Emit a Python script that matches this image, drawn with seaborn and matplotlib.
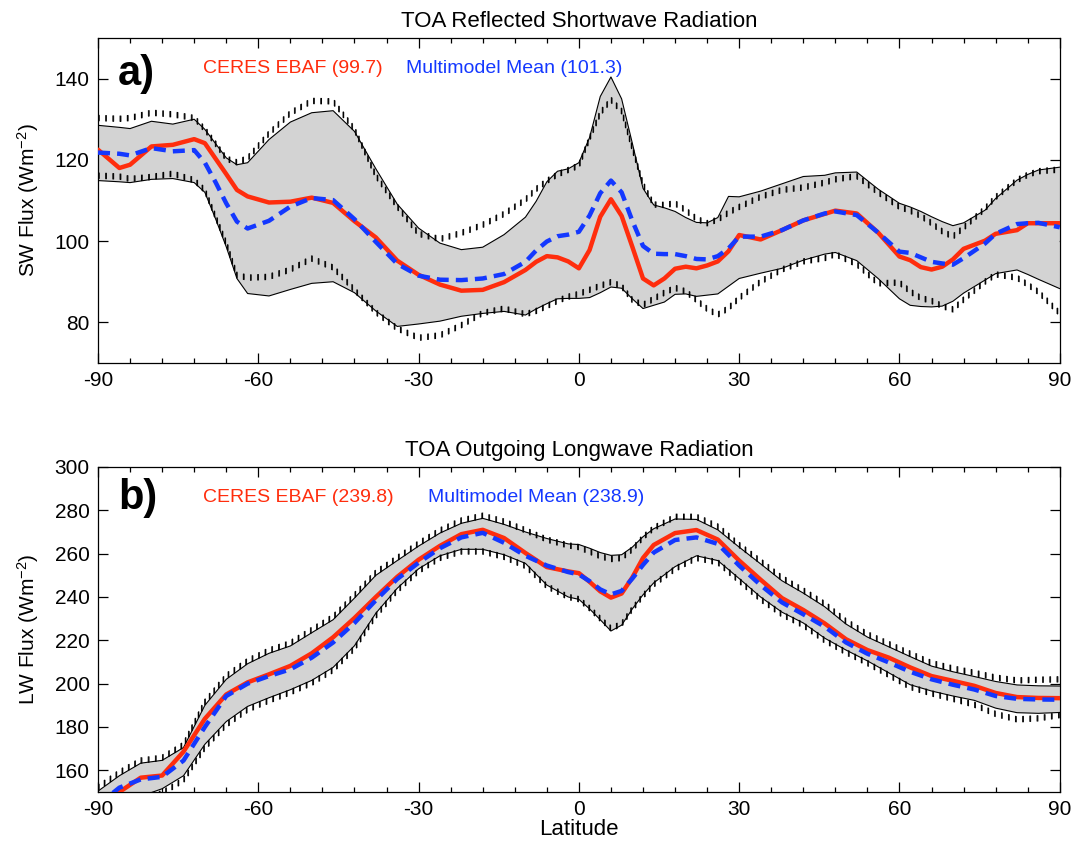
import numpy as np
import pandas as pd
import matplotlib
matplotlib.use("Agg")
import matplotlib.pyplot as plt
import matplotlib.transforms as mtransforms
from matplotlib.ticker import MultipleLocator
import seaborn as sns

# ---------------- data: panel a (SW) ----------------
sw_lat = [-90, -86, -84, -80, -76, -72, -70, -68, -66, -64, -62, -58, -54, -50, -46, -42,
          -38, -34, -30, -26, -22, -18, -14, -10, -8, -6, -4, -2, 0, 2, 4, 6, 8, 10, 12,
          14, 16, 18, 20, 22, 24, 26, 28, 30, 34, 38, 42, 46, 48, 52, 56, 60, 62, 64, 66,
          68, 70, 72, 76, 78, 82, 84, 86, 90]
sw_ceres = [122.5, 118.0, 118.8, 123.3, 123.7, 125.1, 124.1, 120.3, 116.5, 112.6, 111.0,
            109.5, 109.7, 110.7, 109.4, 104.9, 100.9, 95.2, 91.7, 89.3, 87.8, 88.0, 89.9,
            92.9, 94.9, 96.3, 96.0, 95.0, 93.3, 97.8, 106.0, 110.3, 106.2, 98.6, 90.8,
            89.1, 90.8, 93.2, 93.7, 93.3, 94.0, 95.0, 97.5, 101.5, 100.4, 102.7, 105.1,
            106.7, 107.5, 106.8, 102.1, 96.2, 95.3, 93.6, 93.0, 93.7, 95.5, 98.1, 100.1,
            101.8, 102.7, 104.4, 104.4, 104.4]
sw_mmm = [121.8, 121.5, 121.1, 122.9, 122.1, 122.4, 119.3, 114.5, 109.3, 104.8, 103.1,
          105.0, 108.5, 110.6, 110.1, 105.4, 99.8, 94.4, 91.5, 90.5, 90.4, 90.8, 91.9,
          94.9, 97.7, 99.9, 101.2, 101.6, 102.3, 106.3, 111.8, 114.9, 112.0, 105.0, 98.8,
          96.9, 96.8, 96.8, 96.3, 95.6, 95.5, 96.3, 98.2, 101.1, 101.1, 102.7, 105.1,
          106.8, 107.3, 106.4, 102.1, 97.4, 97.1, 96.0, 94.9, 94.5, 94.2, 95.8, 99.4,
          101.8, 104.2, 104.4, 104.5, 103.4]
sw_max = [128.5, 128.0, 127.7, 129.5, 128.8, 130.0, 127.5, 124.0, 120.5, 118.8, 119.3,
          125.0, 129.3, 131.6, 132.1, 127.0, 117.8, 109.1, 103.2, 99.5, 97.9, 98.5, 101.6,
          105.9, 109.8, 114.6, 117.2, 117.8, 119.3, 125.5, 135.6, 140.4, 135.0, 124.1,
          113.0, 108.9, 108.2, 107.3, 105.8, 104.6, 104.5, 105.8, 111.0, 110.9, 112.3,
          114.1, 115.9, 116.2, 116.8, 117.0, 112.8, 109.3, 108.4, 107.3, 106.0, 104.8,
          103.8, 104.5, 107.6, 110.5, 115.0, 116.4, 117.5, 118.2]
sw_min = [114.9, 114.6, 114.4, 115.2, 115.4, 114.4, 112.0, 105.5, 98.6, 90.8, 87.1, 86.5,
          88.1, 89.6, 90.0, 87.3, 82.8, 79.0, 79.6, 80.3, 81.5, 82.2, 82.7, 81.8, 83.3,
          84.6, 85.8, 85.9, 85.9, 86.1, 87.3, 88.7, 88.4, 85.8, 83.4, 84.2, 85.0, 86.9,
          87.0, 86.4, 86.7, 87.0, 88.9, 90.8, 92.1, 93.3, 95.3, 96.8, 97.2, 95.2, 90.8,
          85.8, 84.2, 83.9, 83.8, 84.0, 85.2, 87.2, 90.4, 92.0, 92.9, 91.8, 90.6, 88.3]
sw_dot_hi = [130.3, 130.1, 130.3, 131.6, 131.2, 130.3, 127.5, 124.0, 120.3, 119.4, 120.4,
             126.5, 131.5, 134.5, 134.4, 127.5, 116.1, 108.5, 101.8, 100.5, 102.0, 104.0,
             106.7, 110.2, 112.8, 114.8, 116.4, 117.5, 118.6, 125.3, 131.5, 134.8, 132.0,
             122.8, 114.0, 109.0, 108.9, 109.3, 107.6, 105.5, 104.4, 105.3, 107.0, 108.4,
             110.9, 112.6, 113.2, 114.4, 115.2, 116.0, 112.0, 108.4, 107.5, 106.2, 104.4,
             102.4, 101.1, 103.3, 108.0, 110.8, 115.0, 116.3, 117.2, 117.6]
sw_dot_lo = [116.1, 115.9, 115.3, 115.8, 116.6, 115.0, 112.5, 106.0, 99.5, 91.6, 91.0,
             91.2, 93.0, 95.7, 93.5, 88.0, 82.5, 78.5, 76.2, 76.8, 79.3, 82.3, 83.4, 82.0,
             82.8, 84.0, 85.3, 86.3, 87.0, 88.0, 89.0, 89.9, 88.9, 85.5, 84.3, 85.8, 87.3,
             88.5, 87.6, 85.5, 83.3, 81.9, 83.5, 86.0, 90.0, 93.0, 95.0, 95.8, 96.8, 94.3,
             89.6, 89.8, 87.6, 86.0, 85.3, 84.0, 83.2, 85.6, 90.0, 91.8, 91.0, 89.3, 87.5,
             82.2]

# ---------------- data: panel b (LW) ----------------
lw_lat = [-90, -86, -82, -78, -74, -70, -66, -62, -58, -54, -50, -46, -42, -38, -34, -30,
          -26, -22, -18, -14, -10, -6, -2, 0, 2, 4, 6, 8, 10, 12, 14, 18, 22, 26, 30, 34,
          38, 42, 46, 50, 54, 58, 62, 66, 70, 74, 78, 82, 86, 90]
lw_ceres = [142.0, 150.0, 156.6, 157.6, 168.6, 183.8, 195.0, 200.6, 204.3, 208.2, 214.0,
            221.4, 230.3, 240.0, 249.3, 257.2, 263.6, 269.0, 271.0, 267.2, 260.3, 253.8,
            251.8, 251.0, 247.0, 242.6, 239.7, 241.6, 249.0, 258.0, 264.0, 269.5, 270.9,
            266.5, 256.8, 248.0, 239.5, 234.0, 227.8, 220.5, 215.5, 212.0, 207.5, 203.5,
            201.3, 199.0, 195.7, 193.8, 193.4, 193.3]
lw_mmm = [144.0, 152.0, 155.8, 157.0, 164.5, 180.0, 194.3, 200.0, 203.5, 206.6, 212.0,
          219.0, 228.0, 238.5, 248.3, 255.8, 262.5, 267.5, 269.6, 265.0, 259.0, 254.5,
          251.5, 250.4, 247.3, 243.5, 241.2, 242.8, 248.5, 254.8, 260.5, 266.3, 267.5,
          264.5, 254.5, 245.5, 237.5, 232.0, 226.3, 219.0, 213.8, 209.8, 205.5, 202.0,
          199.5, 197.3, 194.3, 193.0, 192.7, 192.6]
lw_max = [150.4, 157.5, 163.3, 164.6, 170.5, 190.0, 202.0, 209.2, 214.0, 217.4, 223.5,
          229.5, 239.5, 250.0, 256.8, 263.5, 269.5, 274.0, 276.3, 273.5, 270.0, 267.0,
          264.5, 264.2, 262.5, 260.5, 259.2, 259.5, 263.0, 267.8, 271.5, 276.0, 275.8,
          271.0, 263.0, 255.3, 247.5, 241.8, 235.5, 227.5, 221.5, 217.0, 212.5, 208.1,
          205.5, 203.3, 201.0, 199.4, 199.0, 198.9]
lw_min = [140.0, 143.0, 148.0, 151.5, 157.5, 172.0, 182.5, 189.5, 193.5, 197.2, 201.5,
          207.5, 217.5, 232.5, 244.0, 253.0, 259.0, 262.0, 262.0, 259.5, 255.5, 245.5,
          240.0, 238.9, 234.5, 229.5, 224.3, 227.0, 234.5, 241.0, 246.5, 254.0, 259.0,
          256.8, 248.5, 240.0, 233.0, 228.0, 221.0, 215.5, 210.5, 205.0, 199.5, 196.6,
          194.3, 192.3, 188.7, 186.6, 186.3, 186.7]
lw_dot_hi = [152.0, 159.0, 164.5, 165.8, 171.8, 191.5, 203.5, 210.5, 215.3, 218.7, 224.8,
             230.8, 240.8, 251.3, 258.0, 264.7, 270.7, 275.3, 277.5, 274.8, 270.8, 266.5,
             263.8, 263.0, 261.0, 258.8, 257.5, 258.0, 262.0, 267.5, 271.8, 277.0, 277.0,
             272.5, 264.0, 256.5, 248.8, 243.0, 236.8, 228.8, 222.8, 218.3, 213.8, 209.5,
             207.0, 205.0, 202.8, 201.5, 201.8, 202.0]
lw_dot_lo = [139.0, 141.0, 146.0, 149.5, 155.5, 170.5, 181.0, 188.0, 192.2, 196.0, 200.3,
             206.3, 216.3, 231.3, 243.0, 252.0, 258.0, 261.0, 261.0, 258.5, 254.3, 245.0,
             240.0, 239.0, 234.8, 230.0, 225.5, 227.5, 234.5, 240.5, 245.8, 253.0, 258.0,
             256.0, 247.5, 239.0, 232.0, 227.0, 220.0, 214.5, 209.5, 204.0, 198.5, 195.5,
             193.0, 190.3, 186.0, 183.5, 184.0, 185.5]

x_ticks = [-90, -60, -30, 0, 30, 60, 90]
sw_yticks = [80, 100, 120, 140]
lw_yticks = [160, 180, 200, 220, 240, 260, 280, 300]

# ---------------- style ----------------
sns.set_theme(style="ticks")
plt.rcParams["font.family"] = ["Liberation Sans", "DejaVu Sans"]
plt.rcParams["mathtext.default"] = "regular"
plt.rcParams["xtick.direction"] = "in"
plt.rcParams["ytick.direction"] = "in"
for k in ["text.color", "axes.labelcolor", "xtick.color", "ytick.color",
          "axes.edgecolor"]:
    plt.rcParams[k] = "black"

RED = "#ff2d0d"
BLUE = "#1438ff"
GRAY = "#d3d3d3"

fig = plt.figure(figsize=(10.77, 8.42), dpi=100)
ax_a = fig.add_axes([0.091, 0.5689, 0.893, 0.386])
ax_b = fig.add_axes([0.091, 0.0594, 0.893, 0.386])


def dotted(ax, x, y):
    # IDL-style thick dotted line: stacked vertically offset copies give small ticks
    for dy in [-2.5, -1.5, -0.5, 0.5, 1.5, 2.5]:
        tr = mtransforms.offset_copy(ax.transData, fig=fig, x=0, y=dy, units="dots")
        ax.plot(x, y, color="black", linewidth=1.0, linestyle=(0, (1.2, 4.0)),
                dash_capstyle="butt", transform=tr, zorder=3)


def panel(ax, lat, ceres, mmm, vmax, vmin, dhi, dlo, ylim, yticks, title, ylabel,
          letter, letter_y, t1, t2, t2x, text_y):
    df = pd.DataFrame({"lat": lat, "ceres": ceres, "mmm": mmm})
    ax.fill_between(lat, vmin, vmax, facecolor=GRAY, edgecolor="none", zorder=1)
    ax.plot(lat, vmax, color="black", linewidth=0.8, zorder=2)
    ax.plot(lat, vmin, color="black", linewidth=0.8, zorder=2)
    dotted(ax, lat, dhi)
    dotted(ax, lat, dlo)
    sns.lineplot(data=df, x="lat", y="ceres", ax=ax, color=RED, linewidth=3.2, zorder=4)
    sns.lineplot(data=df, x="lat", y="mmm", ax=ax, color=BLUE, linewidth=3.2,
                 linestyle=(0, (2.7, 1.6)), dash_capstyle="butt", zorder=5)
    ax.set_xlim(-90, 90)
    ax.set_ylim(*ylim)
    ax.set_xticks(x_ticks)
    ax.set_xticklabels([str(v) for v in x_ticks])
    ax.xaxis.set_minor_locator(MultipleLocator(6))
    ax.set_yticks(yticks)
    ax.tick_params(axis="both", which="major", length=7.5, width=0.9, labelsize=15,
                   top=True, right=True, pad=6)
    ax.tick_params(axis="x", which="minor", length=3.7, width=0.9, top=True)
    for s in ax.spines.values():
        s.set_linewidth(0.9)
        s.set_color("black")
    ax.set_title(title, fontsize=16, pad=8)
    ax.set_ylabel(ylabel, fontsize=15, labelpad=10)
    ax.set_xlabel("")
    ax.text(0.021, letter_y, letter, transform=ax.transAxes, fontsize=30,
            fontweight="bold", va="center", ha="left")
    ax.text(0.109, text_y, t1, transform=ax.transAxes, fontsize=14, color=RED,
            va="center", ha="left")
    ax.text(t2x, text_y, t2, transform=ax.transAxes, fontsize=14, color=BLUE,
            va="center", ha="left")


panel(ax_a, sw_lat, sw_ceres, sw_mmm, sw_max, sw_min, sw_dot_hi, sw_dot_lo, (70, 150),
      sw_yticks, "TOA Reflected Shortwave Radiation", "SW Flux (Wm$^{-2}$)", "a)", 0.89,
      "CERES EBAF (99.7)", "Multimodel Mean (101.3)", 0.320, 0.905)
panel(ax_b, lw_lat, lw_ceres, lw_mmm, lw_max, lw_min, lw_dot_hi, lw_dot_lo, (150, 300),
      lw_yticks, "TOA Outgoing Longwave Radiation", "LW Flux (Wm$^{-2}$)", "b)", 0.905,
      "CERES EBAF (239.8)", "Multimodel Mean (238.9)", 0.343, 0.905)
ax_b.set_xlabel("Latitude", fontsize=16, labelpad=0)

fig.savefig("out.png", dpi=100)
